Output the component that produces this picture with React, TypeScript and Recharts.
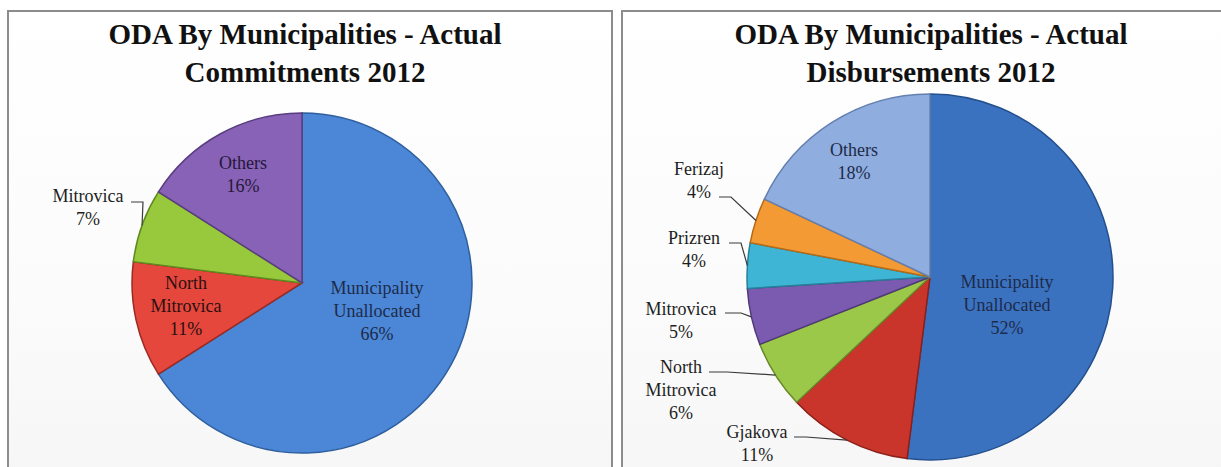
import React from "react";
import { PieChart, Pie, Cell } from "recharts";

// ---- Data ----
const commitNames = ["Municipality Unallocated", "North Mitrovica", "Mitrovica", "Others"];
const commitValues = [66, 11, 7, 16];
const disbNames = ["Municipality Unallocated", "Gjakova", "North Mitrovica", "Mitrovica", "Prizren", "Ferizaj", "Others"];
const disbValues = [52, 11, 6, 5, 4, 4, 18];
const commitTitle = ["ODA By Municipalities - Actual", "Commitments 2012"];
const disbTitle = ["ODA By Municipalities - Actual", "Disbursements 2012"];

// ---- Styles ----
const commitColors = ["#4b87d6", "#e5473c", "#98c93c", "#8862b6"];
const commitStrokes = ["#2f5f9e", "#9b2a22", "#5f8a1e", "#5a3d80"];
const disbColors = ["#3b72c0", "#c9352b", "#9cc84a", "#7b5bb0", "#3fb5d5", "#f39a34", "#8fadde"];
const disbStrokes = ["#24508e", "#8c2019", "#688a28", "#503a7a", "#25809a", "#b56a16", "#6380b0"];

type Layout = { dx: number; dy: number; wrap?: boolean; leader?: [number, number, number]; color?: string };

const commitLayout: Layout[] = [
  { dx: 75, dy: 28, wrap: true, color: "#1d2b4a" },
  { dx: -116, dy: 23, wrap: true, color: "#2a1010" },
  { dx: -214, dy: -76, leader: [-171, -81, -159] },
  { dx: -59, dy: -109, color: "#24183a" },
];
const disbLayout: Layout[] = [
  { dx: 77, dy: 28, wrap: true, color: "#1d2b4a" },
  { dx: -173, dy: 166, leader: [-136, 160, -124] },
  { dx: -249, dy: 113, wrap: true, leader: [-221, 95, -203] },
  { dx: -249, dy: 43, leader: [-205, 36, -189] },
  { dx: -236, dy: -28, leader: [-201, -34, -189] },
  { dx: -231, dy: -97, leader: [-211, -80, -199] },
  { dx: -76, dy: -116, color: "#1d2b4a" },
];

const SERIF = "Liberation Serif, Times New Roman, serif";
const RAD = Math.PI / 180;

const makeLabel = (layout: Layout[], names: string[]) => (props: any) => {
  const { cx, cy, midAngle, outerRadius, value } = props;
  const name: string = props.name ?? props.payload?.name;
  const idx: number = typeof props.index === "number" ? props.index : names.indexOf(name);
  const L = layout[idx];
  if (!L) return null;
  const lines = (L.wrap ? name.split(" ") : [name]).concat([`${value}%`]);
  const n = lines.length;
  const lh = 23;
  const bx = cx + L.dx;
  const by = cy + L.dy;
  let leader = null;
  if (L.leader) {
    const ex = cx + outerRadius * Math.cos(-midAngle * RAD);
    const ey = cy + outerRadius * Math.sin(-midAngle * RAD);
    const [x1, y1, x2] = L.leader;
    leader = (
      <polyline
        points={`${cx + x1},${cy + y1} ${cx + x2},${cy + y1} ${ex},${ey}`}
        fill="none"
        stroke="#3a3a3a"
        strokeWidth={1.2}
      />
    );
  }
  return (
    <g>
      {leader}
      {lines.map((t, i) => (
        <text
          key={i}
          x={bx}
          y={by + (i - (n - 1) / 2) * lh}
          textAnchor="middle"
          dominantBaseline="central"
          style={{ fontFamily: SERIF, fontSize: 18 }}
          fill={L.color ?? "#1e1e1e"}
        >
          {t}
        </text>
      ))}
    </g>
  );
};

const commitData = commitNames.map((name, i) => ({ name, value: commitValues[i] }));
const disbData = disbNames.map((name, i) => ({ name, value: disbValues[i] }));

const panelStyle = (left: number): React.CSSProperties => ({
  position: "absolute",
  left,
  top: 10,
  width: 602,
  height: 480,
  border: "2px solid #8c8c8c",
  background: "linear-gradient(180deg, #ffffff 0%, #fbfbfb 60%, #f6f6f6 100%)",
  boxSizing: "content-box",
});

const titleStyle = (center: number): React.CSSProperties => ({
  position: "absolute",
  left: center - 300,
  top: 15,
  width: 600,
  textAlign: "center",
  fontFamily: SERIF,
  fontWeight: "bold",
  fontSize: 29,
  lineHeight: "38px",
  color: "#111",
});

export default function App() {
  return (
    <div style={{ position: "absolute", left: 0, top: 0, width: 1221, height: 467, overflow: "hidden", background: "#fff", fontFamily: SERIF }}>
      <div style={panelStyle(7)} />
      <div style={panelStyle(621)} />
      <div style={{ position: "absolute", left: 0, top: 0 }}>
        <PieChart width={1221} height={467} margin={{ top: 0, right: 0, bottom: 0, left: 0 }} style={{ fontFamily: SERIF }}>
          <Pie
            data={commitData}
            dataKey="value"
            nameKey="name"
            cx={302}
            cy={283}
            outerRadius={170}
            startAngle={90}
            endAngle={-270}
            isAnimationActive={false}
            labelLine={false}
            label={makeLabel(commitLayout, commitNames)}
          >
            {commitData.map((d, i) => (
              <Cell key={d.name} fill={commitColors[i]} stroke={commitStrokes[i]} strokeWidth={1.5} />
            ))}
          </Pie>
          <Pie
            data={disbData}
            dataKey="value"
            nameKey="name"
            cx={930}
            cy={277}
            outerRadius={183}
            startAngle={90}
            endAngle={-270}
            isAnimationActive={false}
            labelLine={false}
            label={makeLabel(disbLayout, disbNames)}
          >
            {disbData.map((d, i) => (
              <Cell key={d.name} fill={disbColors[i]} stroke={disbStrokes[i]} strokeWidth={1.5} />
            ))}
          </Pie>
        </PieChart>
      </div>
      <div style={titleStyle(305)}>
        {commitTitle[0]}
        <br />
        {commitTitle[1]}
      </div>
      <div style={titleStyle(931)}>
        {disbTitle[0]}
        <br />
        {disbTitle[1]}
      </div>
    </div>
  );
}
